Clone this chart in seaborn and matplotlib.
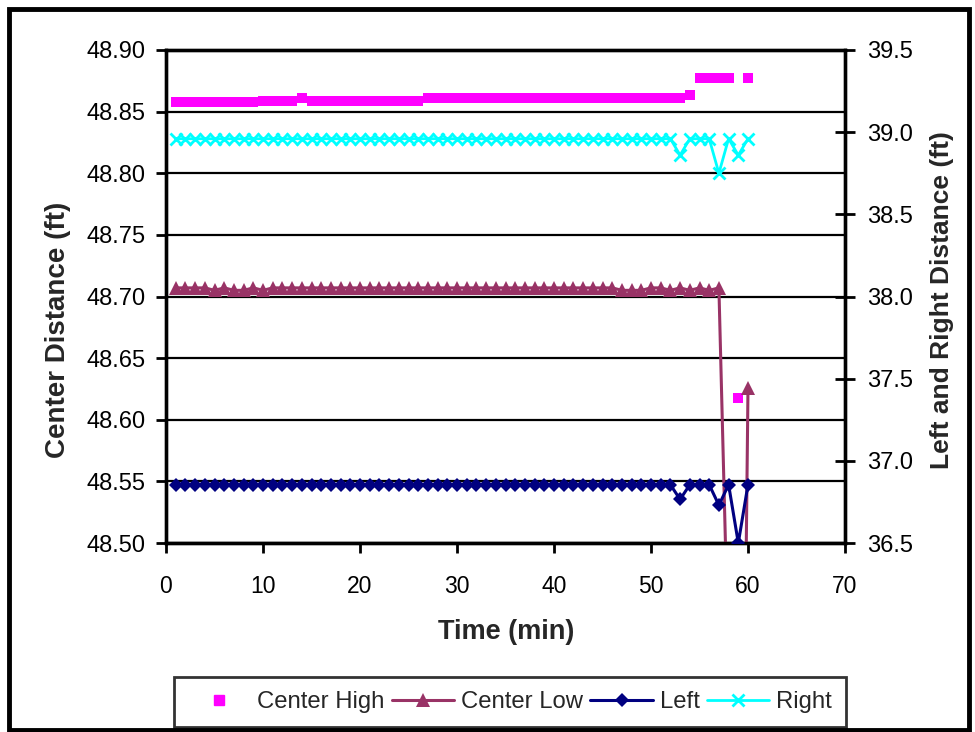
import numpy as np
import pandas as pd
import matplotlib
matplotlib.use("Agg")
import matplotlib.pyplot as plt
from matplotlib.lines import Line2D
from matplotlib.patches import Rectangle
import seaborn as sns

sns.set_theme(style="white")
plt.rcParams['font.family'] = ['Liberation Sans', 'DejaVu Sans']

# ---------------- data ----------------
time_min = list(range(1, 61))

center_high = ([48.8575] * 9 + [48.859] * 4 + [48.8614] + [48.859] * 12 +
               [48.8612] * 27 + [48.8637] + [48.877] * 4 + [48.618] + [48.877])

low_times = {5, 7, 8, 10, 47, 48, 49, 52, 54, 56}
center_low = [48.705 if t in low_times else 48.707 for t in range(1, 58)] + [48.40, 47.91, 48.626]

left_dist = [36.855] * 52 + [36.765] + [36.855] * 3 + [36.73] + [36.855] + [36.50] + [36.855]
right_dist = [38.96] * 52 + [38.86] + [38.96] * 3 + [38.75] + [38.96] + [38.86] + [38.96]

left_ticks = [48.50, 48.55, 48.60, 48.65, 48.70, 48.75, 48.80, 48.85, 48.90]
right_ticks = [36.5, 37.0, 37.5, 38.0, 38.5, 39.0, 39.5]
x_ticks = [0, 10, 20, 30, 40, 50, 60, 70]

df = pd.DataFrame({"Time": time_min, "Center High": center_high, "Center Low": center_low,
                   "Left": left_dist, "Right": right_dist})

C_HIGH = "#FF00FF"
C_LOW = "#993366"
C_LEFT = "#000080"
C_RIGHT = "#00FFFF"

fig = plt.figure(figsize=(9.75, 7.32), dpi=100)
ax = fig.add_axes([166/975, 1 - 543/732, (845 - 166)/975, (543 - 50)/732])
ax2 = ax.twinx()

# left axis series
sns.scatterplot(data=df, x="Time", y="Center High", ax=ax, marker="s", s=60,
                color=C_HIGH, edgecolor=C_HIGH, linewidth=0, legend=False, zorder=3)
sns.lineplot(data=df, x="Time", y="Center Low", ax=ax, color=C_LOW, lw=2.2,
             marker="^", markersize=10, markeredgecolor=C_LOW, markeredgewidth=0,
             legend=False, zorder=3)

# right axis series
sns.lineplot(data=df, x="Time", y="Left", ax=ax2, color=C_LEFT, lw=2.2,
             marker="D", markersize=7.5, markeredgecolor=C_LEFT, markeredgewidth=0,
             legend=False, zorder=3)
sns.lineplot(data=df, x="Time", y="Right", ax=ax2, color=C_RIGHT, lw=2.0,
             marker="x", markersize=9, markeredgecolor=C_RIGHT, markeredgewidth=2,
             legend=False, zorder=3)

ax.set_xlim(0, 70)
ax.set_ylim(48.50, 48.90)
ax2.set_ylim(36.5, 39.5)
ax.set_xticks(x_ticks)
ax.set_yticks(left_ticks)
ax2.set_yticks(right_ticks)
ax.set_yticklabels([f"{v:.2f}" for v in left_ticks])
ax2.set_yticklabels([f"{v:.1f}" for v in right_ticks])
ax.set_xticklabels([str(v) for v in x_ticks])

ax.yaxis.grid(True, color="black", lw=1.6)
ax.xaxis.grid(False)
ax2.grid(False)

for a in (ax, ax2):
    for sp in a.spines.values():
        sp.set_color("black")
        sp.set_linewidth(2.4)

ax.tick_params(axis="y", direction="out", length=7, width=2, labelsize=17, pad=8,
               colors="black", left=True)
ax.tick_params(axis="x", direction="out", length=7, width=2, labelsize=16.5, pad=16,
               colors="black", bottom=True)
ax2.tick_params(axis="y", direction="inout", length=14, width=2, labelsize=17, pad=9,
                colors="black", right=True)

ax.set_xlabel("Time (min)", fontsize=19.5, fontweight="bold")
ax.set_ylabel("Center Distance (ft)", fontsize=20, fontweight="bold")
ax2.set_ylabel("Left and Right Distance (ft)", fontsize=19, fontweight="bold")
ax.xaxis.set_label_coords((506 - 166) / 679, (543 - 632) / 493)
ax.yaxis.set_label_coords((58 - 166) / 679, (543 - 330) / 493)
ax2.yaxis.set_label_coords((942 - 166) / 679, (543 - 300) / 493)
ax.xaxis.label.set_va("center")
ax.yaxis.label.set_va("center")
ax2.yaxis.label.set_va("center")

handles = [
    Line2D([], [], color=C_HIGH, marker="s", linestyle="none", markersize=7.5),
    Line2D([], [], color=C_LOW, marker="^", lw=2.2, markersize=10, markeredgewidth=0),
    Line2D([], [], color=C_LEFT, marker="D", lw=2.2, markersize=7.5, markeredgewidth=0),
    Line2D([], [], color=C_RIGHT, marker="x", lw=2.0, markersize=9, markeredgewidth=2),
]
labels = ["Center High", "Center Low", "Left", "Right"]
leg = fig.legend(handles, labels, loc="center", bbox_to_anchor=(510/975, 1 - 702/732),
                 ncol=4, fontsize=17.2, frameon=True, fancybox=False, edgecolor="black",
                 handlelength=2.6, columnspacing=0.3, handletextpad=0.3, borderpad=0.58)
leg.get_frame().set_linewidth(2.0)

fig.patches.append(Rectangle((9/975, 2/732), 960/975, 721/732, transform=fig.transFigure,
                             fill=False, edgecolor="black", lw=3.5, zorder=10))

fig.savefig("out.png", dpi=100)
